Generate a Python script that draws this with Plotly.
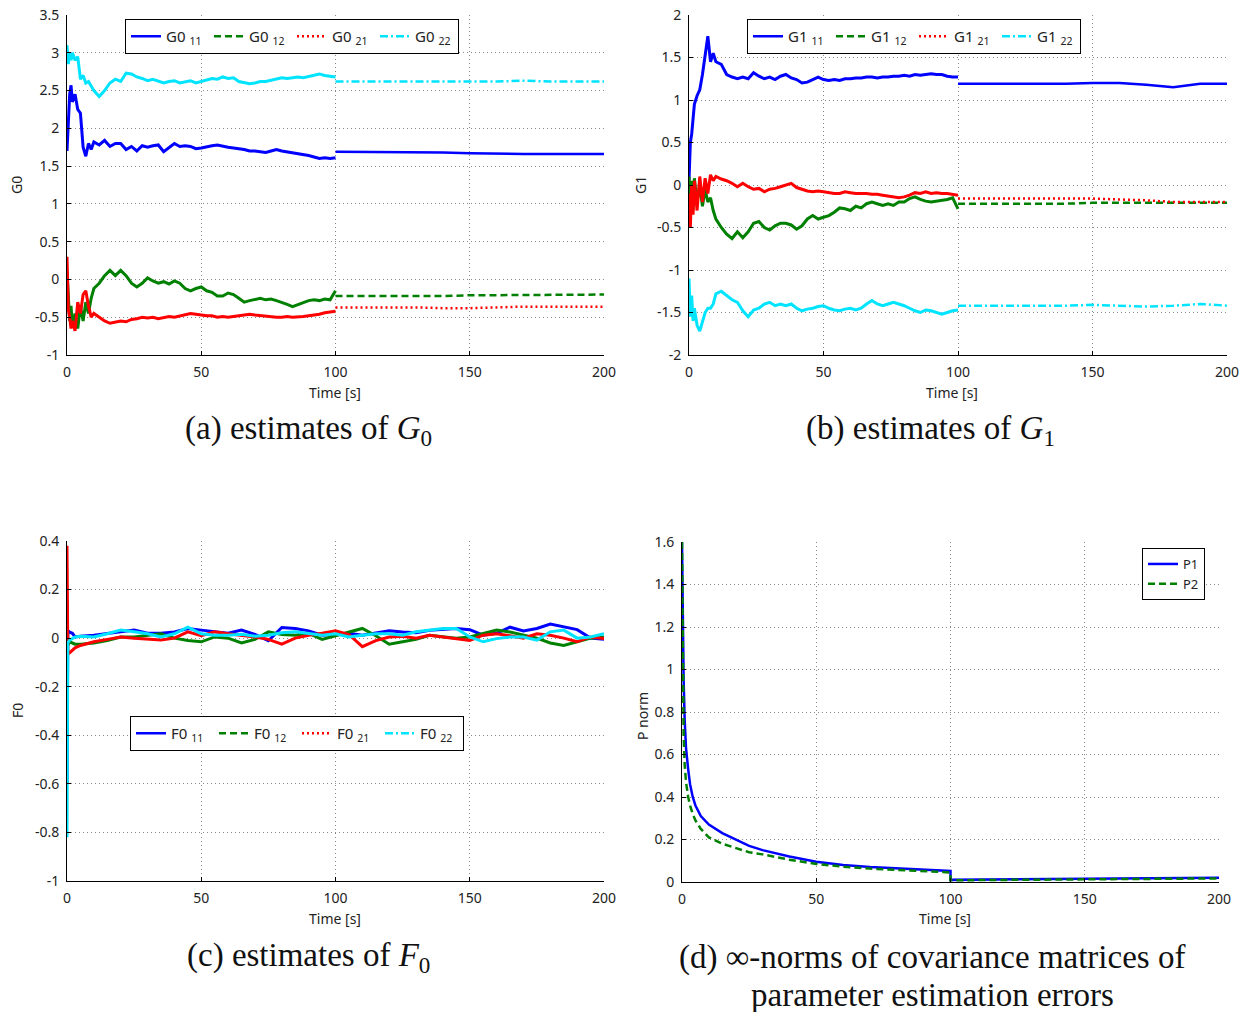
import plotly.graph_objects as go

# ---------------- data ----------------
T_PRE = [0, 0.5, 1, 1.5, 2, 3, 4, 5, 6, 7, 8, 9, 10,
         12, 14, 16, 18, 20, 22, 24, 26, 28,
         30, 32, 34, 36, 38, 40, 42, 44, 46,
         48, 50, 52, 54, 56, 58, 60, 62, 64,
         66, 68, 70, 72, 74, 76, 78, 80, 82,
         84, 86, 88, 90, 92, 94, 96, 98, 100]
T_POST = [100, 110, 120, 130, 140, 150, 160, 170, 180, 190, 200]

G0_11_PRE = [1.70, 2.20, 2.45, 2.57, 2.35, 2.45, 2.25, 2.20, 1.75, 1.63, 1.80, 1.72, 1.82,
             1.78, 1.84, 1.76, 1.80, 1.80, 1.72, 1.76, 1.70, 1.77,
             1.75, 1.77, 1.78, 1.69, 1.74, 1.80, 1.76, 1.77, 1.76,
             1.73, 1.74, 1.76, 1.77, 1.78, 1.76, 1.75, 1.74, 1.73,
             1.72, 1.70, 1.70, 1.69, 1.68, 1.70, 1.72, 1.70, 1.69,
             1.68, 1.67, 1.66, 1.64, 1.62, 1.60, 1.61, 1.60, 1.61]
G0_11_POST = [1.69, 1.69, 1.69, 1.69, 1.68, 1.67, 1.66, 1.66, 1.66, 1.66, 1.66]

G0_12_PRE = [0.10, -0.30, -0.55, -0.35, -0.62, -0.45, -0.65, -0.35, -0.55, -0.30, -0.45, -0.25, -0.12,
             -0.05, 0.05, 0.12, 0.05, 0.12, 0.05, -0.05, -0.10, -0.05,
             0.02, -0.02, -0.05, -0.03, -0.06, -0.02, -0.05, -0.12, -0.15,
             -0.12, -0.10, -0.15, -0.17, -0.22, -0.22, -0.18, -0.20, -0.25,
             -0.30, -0.28, -0.26, -0.25, -0.27, -0.26, -0.28, -0.30, -0.33,
             -0.36, -0.33, -0.30, -0.28, -0.27, -0.28, -0.26, -0.27, -0.15]
G0_12_POST = [-0.22, -0.22, -0.22, -0.22, -0.22, -0.21, -0.21, -0.21, -0.20, -0.20, -0.20]

G0_21_PRE = [0.30, -0.40, -0.50, -0.65, -0.55, -0.68, -0.30, -0.45, -0.20, -0.15, -0.35, -0.50, -0.45,
             -0.50, -0.55, -0.58, -0.57, -0.55, -0.56, -0.53, -0.52, -0.50,
             -0.51, -0.50, -0.52, -0.50, -0.49, -0.50, -0.48, -0.47, -0.45,
             -0.46, -0.47, -0.48, -0.48, -0.50, -0.49, -0.50, -0.49, -0.48,
             -0.47, -0.46, -0.47, -0.48, -0.48, -0.49, -0.50, -0.50, -0.49,
             -0.50, -0.50, -0.49, -0.48, -0.47, -0.46, -0.44, -0.43, -0.42]
G0_21_POST = [-0.37, -0.37, -0.37, -0.37, -0.38, -0.38, -0.37, -0.36, -0.36, -0.36, -0.36]

G0_22_PRE = [3.10, 2.85, 3.00, 2.90, 3.00, 2.90, 2.95, 2.65, 2.70, 2.60, 2.62, 2.55, 2.50,
             2.42, 2.50, 2.60, 2.65, 2.62, 2.73, 2.72, 2.68, 2.66,
             2.63, 2.65, 2.62, 2.60, 2.62, 2.63, 2.60, 2.62, 2.63,
             2.60, 2.62, 2.64, 2.66, 2.65, 2.68, 2.66, 2.67, 2.62,
             2.60, 2.59, 2.60, 2.62, 2.62, 2.64, 2.65, 2.67, 2.66,
             2.67, 2.68, 2.67, 2.69, 2.70, 2.72, 2.70, 2.69, 2.68]
G0_22_POST = [2.62, 2.62, 2.62, 2.61, 2.62, 2.62, 2.62, 2.63, 2.62, 2.62, 2.62]

G1_11_PRE = [0.05, 0.50, 0.60, 0.80, 0.95, 1.05, 1.12, 1.30, 1.55, 1.75, 1.45, 1.55, 1.45,
             1.42, 1.30, 1.27, 1.25, 1.27, 1.25, 1.32, 1.28, 1.25,
             1.27, 1.24, 1.28, 1.30, 1.26, 1.24, 1.20, 1.21, 1.24,
             1.27, 1.24, 1.23, 1.24, 1.23, 1.25, 1.25, 1.26, 1.26,
             1.27, 1.27, 1.26, 1.27, 1.27, 1.28, 1.28, 1.29, 1.28,
             1.30, 1.29, 1.30, 1.31, 1.30, 1.30, 1.28, 1.27, 1.27]
G1_11_POST = [1.19, 1.19, 1.19, 1.19, 1.19, 1.20, 1.20, 1.18, 1.15, 1.19, 1.19]

G1_12_PRE = [0.10, -0.20, 0.05, -0.30, 0.08, -0.20, 0.00, -0.25, -0.05, -0.20, -0.15, -0.30, -0.40,
             -0.50, -0.58, -0.63, -0.55, -0.62, -0.55, -0.45, -0.43, -0.50,
             -0.53, -0.48, -0.45, -0.45, -0.47, -0.52, -0.48, -0.40, -0.36,
             -0.40, -0.38, -0.36, -0.32, -0.27, -0.28, -0.30, -0.25, -0.27,
             -0.22, -0.20, -0.22, -0.24, -0.22, -0.24, -0.20, -0.20, -0.16,
             -0.14, -0.17, -0.19, -0.20, -0.19, -0.18, -0.17, -0.15, -0.28]
G1_12_POST = [-0.22, -0.22, -0.22, -0.22, -0.22, -0.21, -0.21, -0.21, -0.21, -0.21, -0.21]

G1_21_PRE = [-0.10, -0.50, 0.00, -0.35, 0.05, -0.30, 0.10, -0.20, 0.08, -0.10, 0.12, 0.05, 0.10,
             0.07, 0.05, 0.02, -0.02, 0.02, -0.02, -0.05, -0.04, -0.08,
             -0.05, -0.04, -0.02, 0.00, 0.02, -0.03, -0.05, -0.07, -0.08,
             -0.07, -0.08, -0.09, -0.10, -0.10, -0.08, -0.09, -0.10, -0.10,
             -0.10, -0.11, -0.11, -0.12, -0.13, -0.14, -0.15, -0.14, -0.12,
             -0.09, -0.10, -0.08, -0.10, -0.09, -0.10, -0.10, -0.11, -0.12]
G1_21_POST = [-0.16, -0.16, -0.16, -0.16, -0.16, -0.16, -0.17, -0.18, -0.20, -0.20, -0.20]

G1_22_PRE = [-1.10, -1.55, -1.30, -1.60, -1.45, -1.65, -1.72, -1.60, -1.50, -1.45, -1.45, -1.40, -1.28,
             -1.25, -1.30, -1.35, -1.38, -1.48, -1.55, -1.47, -1.45, -1.40,
             -1.38, -1.42, -1.40, -1.42, -1.40, -1.45, -1.48, -1.46, -1.45,
             -1.43, -1.42, -1.45, -1.47, -1.48, -1.46, -1.45, -1.47, -1.45,
             -1.40, -1.36, -1.40, -1.42, -1.40, -1.38, -1.40, -1.42, -1.45,
             -1.48, -1.50, -1.47, -1.48, -1.50, -1.52, -1.50, -1.48, -1.47]
G1_22_POST = [-1.42, -1.42, -1.42, -1.42, -1.42, -1.41, -1.42, -1.43, -1.42, -1.40, -1.42]

T_C = [0, 0.3, 1, 2, 3,
       5, 10, 15, 20, 25, 30, 35, 40, 45,
       50, 55, 60, 65, 70, 75, 80, 85, 90,
       95, 100, 105, 110, 115, 120, 125, 130, 135,
       140, 145, 150, 155, 160, 165, 170, 175, 180,
       185, 190, 195, 200]
F0_11 = [-0.60, 0.030, 0.025, 0.020, 0.005,
         0.008, 0.012, 0.018, 0.026, 0.033, 0.020, 0.020, 0.025, 0.040,
         0.033, 0.026, 0.020, 0.033, 0.015, -0.011, 0.044, 0.040, 0.030,
         0.012, 0.015, 0.020, 0.012, 0.022, 0.030, 0.025, 0.022, 0.032,
         0.036, 0.040, 0.035, 0.012, 0.020, 0.045, 0.030, 0.040, 0.058,
         0.045, 0.035, 0.000, -0.005]
F0_12 = [0.15, -0.030, -0.015, -0.020, -0.025,
         -0.025, -0.020, -0.010, 0.005, 0.005, 0.012, 0.018, 0.000, -0.010,
         -0.015, 0.005, 0.000, -0.020, -0.005, 0.026, 0.015, 0.012, 0.020,
         -0.005, 0.010, 0.025, 0.040, 0.010, -0.025, -0.015, -0.005, 0.012,
         0.005, 0.000, 0.005, 0.018, 0.033, 0.025, 0.012, 0.000, -0.020,
         -0.030, -0.015, 0.000, 0.005]
F0_21 = [0.38, -0.065, -0.060, -0.050, -0.040,
         -0.030, -0.015, -0.005, 0.005, 0.000, -0.005, -0.008, 0.000, 0.026,
         0.010, 0.026, 0.018, 0.012, 0.005, -0.005, -0.025, 0.000, 0.012,
         0.020, 0.030, 0.015, -0.035, -0.010, 0.005, 0.008, 0.000, 0.012,
         0.005, -0.005, -0.010, 0.012, 0.018, 0.010, 0.000, 0.018, 0.012,
         0.000, -0.015, 0.005, -0.002]
F0_22 = [-0.82, -0.020, -0.008, 0.000, 0.005,
         0.008, 0.005, 0.018, 0.033, 0.026, 0.018, 0.005, 0.018, 0.045,
         0.018, 0.012, 0.012, 0.016, 0.008, 0.012, 0.022, 0.026, 0.018,
         0.012, 0.018, 0.005, 0.012, 0.018, 0.018, 0.012, 0.026, 0.033,
         0.040, 0.040, 0.005, -0.015, -0.002, 0.005, 0.005, -0.008, 0.026,
         0.033, 0.000, 0.005, 0.018]

T_D = [0, 0.3, 0.6, 1, 1.5, 2.3, 3, 4, 5, 7, 10, 15, 20, 25, 30, 40, 50, 60, 70, 80, 90, 100,
       100, 120, 140, 160, 180, 200]
P1 = [1.6, 1.2, 0.95, 0.76, 0.63, 0.53, 0.46, 0.40, 0.36, 0.31, 0.27, 0.23, 0.20, 0.17, 0.15,
      0.12, 0.095, 0.08, 0.07, 0.063, 0.057, 0.052,
      0.010, 0.012, 0.014, 0.016, 0.018, 0.020]
P2 = [1.6, 0.9, 0.7, 0.55, 0.47, 0.40, 0.36, 0.32, 0.29, 0.25, 0.21, 0.18, 0.16, 0.14, 0.13,
      0.105, 0.085, 0.072, 0.063, 0.056, 0.05, 0.045,
      0.008, 0.010, 0.012, 0.014, 0.016, 0.017]

X_TICKS = [0, 50, 100, 150, 200]
X_TICKTEXT = ["0", "50", "100", "150", "200"]
YA_TICKS = [-1, -0.5, 0, 0.5, 1, 1.5, 2, 2.5, 3, 3.5]
YA_TEXT = ["-1", "-0.5", "0", "0.5", "1", "1.5", "2", "2.5", "3", "3.5"]
YB_TICKS = [-2, -1.5, -1, -0.5, 0, 0.5, 1, 1.5, 2]
YB_TEXT = ["-2", "-1.5", "-1", "-0.5", "0", "0.5", "1", "1.5", "2"]
YC_TICKS = [-1, -0.8, -0.6, -0.4, -0.2, 0, 0.2, 0.4]
YC_TEXT = ["-1", "-0.8", "-0.6", "-0.4", "-0.2", "0", "0.2", "0.4"]
YD_TICKS = [0, 0.2, 0.4, 0.6, 0.8, 1, 1.2, 1.4, 1.6]
YD_TEXT = ["0", "0.2", "0.4", "0.6", "0.8", "1", "1.2", "1.4", "1.6"]

for s in [G0_11_PRE, G0_12_PRE, G0_21_PRE, G0_22_PRE, G1_11_PRE, G1_12_PRE, G1_21_PRE, G1_22_PRE]:
    assert len(s) == len(T_PRE), len(s)
for s in [G0_11_POST, G0_12_POST, G0_21_POST, G0_22_POST, G1_11_POST, G1_12_POST, G1_21_POST, G1_22_POST]:
    assert len(s) == len(T_POST)
for s in [F0_11, F0_12, F0_21, F0_22]:
    assert len(s) == len(T_C), len(s)
assert len(P1) == len(T_D) and len(P2) == len(T_D)

# ---------------- styling ----------------
# the page's default body margin is removed (post_script below), so the figure sits at (0, 0)
W, H = 1252, 1012
BLUE, GREEN, RED, CYAN = "#0000ff", "#008000", "#ff0000", "#00e4ff"
DASH = {"solid": "solid", "dash": "7px,4px", "dot": "2px,3px", "dashdot": "8px,3px,2px,3px"}
STYLES = [(BLUE, "solid"), (GREEN, "dash"), (RED, "dot"), (CYAN, "dashdot")]
TICKFONT = dict(family="Noto Sans", size=14, color="#222222")
SERIF = dict(family="Liberation Serif", size=33, color="#111111")

def px_x(p):
    return p / W

def px_y(p):
    return 1 - p / H

fig = go.Figure()

def add_split(xa, ya, legend, names, pres, posts):
    for i, ((color, dash), name, pre, post) in enumerate(zip(STYLES, names, pres, posts)):
        fig.add_trace(go.Scatter(x=T_PRE, y=pre, mode="lines", xaxis=xa, yaxis=ya,
                                 line=dict(color=color, width=3), showlegend=False,
                                 hoverinfo="skip"))
        fig.add_trace(go.Scatter(x=T_POST, y=post, mode="lines", xaxis=xa, yaxis=ya,
                                 line=dict(color=color, width=2.5, dash=DASH[dash]),
                                 name=name, legend=legend, legendrank=i + 1))

add_split("x", "y", "legend", ["G0 <sub>11</sub>", "G0 <sub>12</sub>", "G0 <sub>21</sub>", "G0 <sub>22</sub>"],
          [G0_11_PRE, G0_12_PRE, G0_21_PRE, G0_22_PRE], [G0_11_POST, G0_12_POST, G0_21_POST, G0_22_POST])
add_split("x2", "y2", "legend2", ["G1 <sub>11</sub>", "G1 <sub>12</sub>", "G1 <sub>21</sub>", "G1 <sub>22</sub>"],
          [G1_11_PRE, G1_12_PRE, G1_21_PRE, G1_22_PRE], [G1_11_POST, G1_12_POST, G1_21_POST, G1_22_POST])

# panel c
F_NAMES = ["F0 <sub>11</sub>", "F0 <sub>12</sub>", "F0 <sub>21</sub>", "F0 <sub>22</sub>"]
for (color, dash), vals in zip(STYLES, [F0_11, F0_12, F0_21, F0_22]):
    fig.add_trace(go.Scatter(x=T_C, y=vals, mode="lines", xaxis="x3", yaxis="y3",
                             line=dict(color=color, width=3), showlegend=False, hoverinfo="skip"))
for i, ((color, dash), name) in enumerate(zip(STYLES, F_NAMES)):
    fig.add_trace(go.Scatter(x=[None], y=[None], mode="lines", xaxis="x3", yaxis="y3",
                             line=dict(color=color, width=2.5, dash=DASH[dash]),
                             name=name, legend="legend3", legendrank=i + 1))

# panel d
fig.add_trace(go.Scatter(x=T_D, y=P1, mode="lines", xaxis="x4", yaxis="y4",
                         line=dict(color=BLUE, width=2.5), name="P1", legend="legend4"))
fig.add_trace(go.Scatter(x=T_D, y=P2, mode="lines", xaxis="x4", yaxis="y4",
                         line=dict(color=GREEN, width=2.5, dash=DASH["dash"]), name="P2", legend="legend4"))

def axis_common():
    return dict(showline=True, linecolor="black", linewidth=1, mirror=False,
                ticks="inside", ticklen=4, tickcolor="black",
                showgrid=True, gridcolor="#8a8a8a", griddash="1px,3px", gridwidth=1,
                zeroline=False, tickfont=TICKFONT, ticklabelstandoff=4, automargin=False,
                ticklabeloverflow="allow")

def xaxis(dom, anchor):
    d = axis_common()
    d.update(domain=dom, anchor=anchor, range=[0, 200], tickvals=X_TICKS, ticktext=X_TICKTEXT)
    return d

def yaxis(dom, anchor, rng, tv, tt):
    d = axis_common()
    d.update(domain=dom, anchor=anchor, range=rng, tickvals=tv, ticktext=tt)
    return d

XA = [px_x(67), px_x(604)]
XB = [px_x(689), px_x(1227)]
XC = [px_x(67), px_x(604)]
XD = [px_x(682), px_x(1219)]
YAB = [px_y(355), px_y(15)]
YC = [px_y(881), px_y(541)]
YD = [px_y(882), px_y(542)]

def legend_box(x, y, orient, size=15, entry=None):
    d = dict(x=px_x(x), y=px_y(y), xanchor="left", yanchor="top", orientation=orient,
             bgcolor="white", bordercolor="black", borderwidth=1,
             font=dict(family="Noto Sans", size=size, color="#222222"),
             itemwidth=30, tracegroupgap=0)
    if entry:
        d.update(entrywidth=entry, entrywidthmode="pixels")
    return d

annotations = []

def ann(text, x, y, font, angle=0):
    annotations.append(dict(text=text, x=px_x(x), y=px_y(y), xref="paper", yref="paper",
                            xanchor="center", yanchor="middle", showarrow=False,
                            font=font, textangle=angle))

for x, y in [(335, 392), (952, 392), (335, 918), (945, 918)]:
    ann("Time [s]", x, y, TICKFONT)
ann("G0", 17, 185, TICKFONT, -90)
ann("G1", 641, 185, TICKFONT, -90)
ann("F0", 17, 711, TICKFONT, -90)
ann("P norm", 642, 716, TICKFONT, -90)

ann("(a) estimates of <i>G</i><sub>0</sub>", 308, 430, SERIF)
ann("(b) estimates of <i>G</i><sub>1</sub>", 930, 430, SERIF)
ann("(c) estimates of <i>F</i><sub>0</sub>", 308, 957, SERIF)
ann("(d) \u221e-norms of covariance matrices of", 932, 957, SERIF)
ann("parameter estimation errors", 932, 995, SERIF)

fig.update_layout(
    width=W, height=H, margin=dict(l=0, r=0, t=0, b=0, autoexpand=False),
    paper_bgcolor="white", plot_bgcolor="white",
    xaxis=xaxis(XA, "y"), yaxis=yaxis(YAB, "x", [-1, 3.5], YA_TICKS, YA_TEXT),
    xaxis2=xaxis(XB, "y2"), yaxis2=yaxis(YAB, "x2", [-2, 2], YB_TICKS, YB_TEXT),
    xaxis3=xaxis(XC, "y3"), yaxis3=yaxis(YC, "x3", [-1, 0.4], YC_TICKS, YC_TEXT),
    xaxis4=xaxis(XD, "y4"), yaxis4=yaxis(YD, "x4", [0, 1.6], YD_TICKS, YD_TEXT),
    legend=legend_box(125, 19, "h", entry=38),
    legend2=legend_box(747, 19, "h", entry=38),
    legend3=legend_box(130, 716, "h", entry=38),
    legend4=legend_box(1142, 548, "v", 13),
    annotations=annotations,
    showlegend=True,
)

fig.write_html("out.html", config={"displayModeBar": False},
               post_script="document.body.style.margin='0px';")
